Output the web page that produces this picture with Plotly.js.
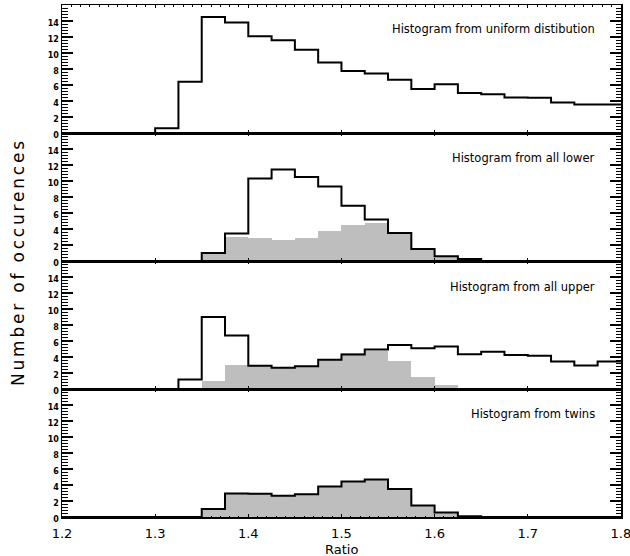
<!DOCTYPE html>
<html>
<head>
<meta charset="utf-8">
<script src="https://cdn.plot.ly/plotly-3.0.1.min.js"></script>
<style>
html,body{margin:0;padding:0;background:#fff;}
#chart g.annotation[data-index="4"] text{letter-spacing:2.8px;}
</style>
</head>
<body>
<div id="chart" style="width:630px;height:556px;"></div>
<script>
// Bin left edges (bin width 0.025)
const binEdges = [1.2,1.225,1.25,1.275,1.3,1.325,1.35,1.375,1.4,1.425,1.45,1.475,1.5,1.525,1.55,1.575,1.6,1.625,1.65,1.675,1.7,1.725,1.75,1.775];
const binWidth = 0.025;

const uniformCounts = [0,0,0,0,0.6,6.4,14.5,13.8,12.1,11.6,10.4,8.8,7.75,7.45,6.65,5.5,6.1,5.0,4.85,4.45,4.4,3.8,3.55,3.55];
const lowerCounts   = [0,0,0,0,0,0,1.0,3.45,10.3,11.45,10.5,9.3,6.9,5.2,3.5,1.5,0.6,0.25,0,0,0,0,0,0];
const upperCounts   = [0,0,0,0,0,1.2,9.0,6.7,2.9,2.65,2.85,3.65,4.3,4.95,5.5,5.1,5.3,4.35,4.65,4.25,4.15,3.45,2.95,3.45];
const twinsCounts   = [0,0,0,0,0,0,1.0,2.95,2.9,2.65,2.85,3.8,4.45,4.7,3.5,1.45,0.55,0.08,0,0,0,0,0,0];

const panelLabels = ["Histogram from uniform distibution","Histogram from all lower","Histogram from all upper","Histogram from twins"];
const yTickVals = [0,2,4,6,8,10,12,14];
const xTickVals = [1.2,1.3,1.4,1.5,1.6,1.7,1.8];
const xTickText = ["1.2","1.3","1.4","1.5","1.6","1.7","1.8"];

const GRAY = 'rgb(190,190,190)';
const FONT = 'DejaVu Sans, Liberation Sans, sans-serif';

function stepTrace(vals, xa, ya){
  const xs = binEdges.concat([binEdges[binEdges.length-1] + binWidth]);
  const ys = vals.concat([vals[vals.length-1]]);
  return {x: xs, y: ys, xaxis: xa, yaxis: ya, type:'scatter', mode:'lines',
          line:{shape:'hv', color:'#000', width:2}, hoverinfo:'skip', showlegend:false};
}
function grayTrace(vals, xa, ya){
  return {x: binEdges.map(e => e + binWidth/2), y: vals, width: binEdges.map(()=>binWidth),
          xaxis: xa, yaxis: ya, type:'bar', marker:{color:GRAY, line:{width:0}},
          hoverinfo:'skip', showlegend:false};
}

const series = [uniformCounts, lowerCounts, upperCounts, twinsCounts];
const withGray = [false, true, true, true];
const traces = [];
const layout = {
  width:630, height:556,
  margin:{l:62, r:9, t:5, b:39},
  paper_bgcolor:'#fff', plot_bgcolor:'#fff',
  bargap:0, barmode:'overlay',
  showlegend:false,
  font:{family:FONT, color:'#000'},
  annotations:[]
};

for (let i=0;i<4;i++){
  const sfx = i===0 ? '' : String(i+1);
  const xa = 'x'+sfx, ya = 'y'+sfx;
  if (withGray[i]) traces.push(grayTrace(twinsCounts, xa, ya));
  traces.push(stepTrace(series[i], xa, ya));
  const top = 1 - i/4, bot = 1 - (i+1)/4;
  layout['xaxis'+sfx] = {
    domain:[0,1], anchor:ya, range:[1.2,1.8001],
    showgrid:false, zeroline:false, showline:true, linecolor:'#000', linewidth:1.5, mirror:'ticks',
    ticks:'inside', ticklen:3, tickwidth:1.2, tickcolor:'#000',
    tickvals:xTickVals, ticktext:xTickText, showticklabels: i===3,
    ticklabelstandoff:4, ticklabeloverflow:'allow',
    tickfont:{family:FONT, size:13, color:'#000'},
    minor:{dtick:0.01, tick0:1.2, ticks:'inside', ticklen:1.5, tickwidth:1, tickcolor:'#000', showgrid:false}
  };
  layout['yaxis'+sfx] = {
    domain:[bot, top], anchor:xa, range:[0,16],
    showgrid:false, zeroline:false, showline:true, linecolor:'#000', linewidth:1.5, mirror:'ticks',
    ticks:'inside', ticklen:11, tickwidth:1.2, tickcolor:'#000',
    tickvals:yTickVals, ticktext:yTickVals.map(String),
    tickfont:{family:FONT, size:8, color:'#000', weight:'bold'},
    ticklabelshift:2,
    minor:{dtick:0.4, tick0:0, ticks:'inside', ticklen:5.5, tickwidth:1, tickcolor:'#000', showgrid:false}
  };
  const yc = [29, 157.7, 286.7, 414][i];
  layout.annotations.push({
    text: panelLabels[i], xref:'paper', yref:'paper',
    x:(597-62)/559, y:(517-yc)/512, xanchor:'right', yanchor:'middle',
    showarrow:false, font:{family:FONT, size:11.5, color:'#000'}
  });
}
layout.annotations.push({
  text:'Number of occurences', xref:'paper', yref:'paper',
  x:(18-62)/559, y:(517-262)/512, xanchor:'center', yanchor:'middle', textangle:-90,
  showarrow:false, font:{family:FONT, size:17, color:'#000'}
});
layout.annotations.push({
  text:'Ratio', xref:'paper', yref:'paper',
  x:(341-62)/559, y:(517-549)/512, xanchor:'center', yanchor:'middle',
  showarrow:false, font:{family:FONT, size:13, color:'#000'}
});

Plotly.newPlot('chart', traces, layout, {staticPlot:true, displayModeBar:false});
</script>
</body>
</html>
